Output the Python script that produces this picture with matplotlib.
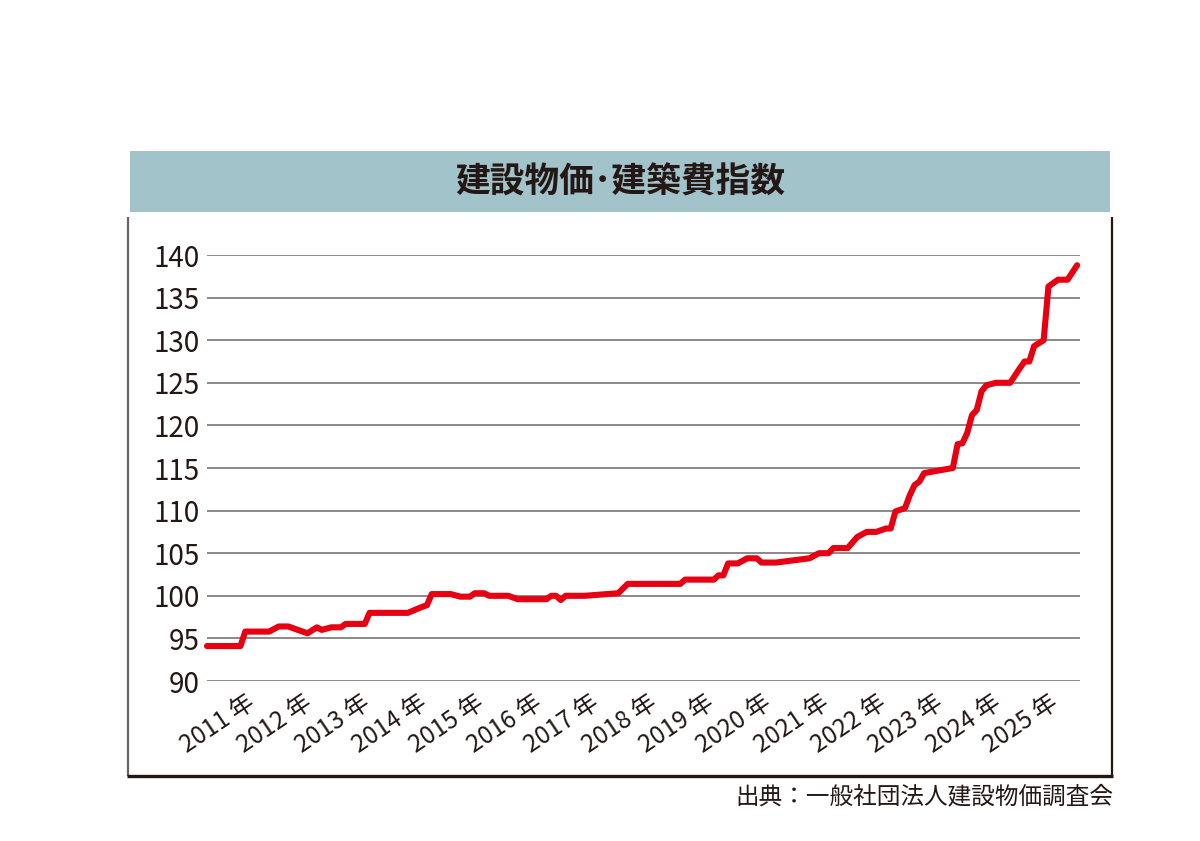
import matplotlib
matplotlib.use('Agg')
import matplotlib.pyplot as plt
from matplotlib.patches import Rectangle

plt.rcParams['font.family'] = ['Noto Sans CJK JP', 'DejaVu Sans']

title = "建設物価･建築費指数"
source = "出典：一般社団法人建設物価調査会"

dates = ["2010-05", "2010-12", "2011-01", "2011-06", "2011-08", "2011-10", "2011-12",
         "2012-02", "2012-04", "2012-05", "2012-07", "2012-09", "2012-10", "2013-02",
         "2013-03", "2013-11", "2014-02", "2014-03", "2014-04", "2014-08", "2014-10",
         "2014-12", "2015-01", "2015-03", "2015-04", "2015-08", "2015-10", "2016-04",
         "2016-05", "2016-06", "2016-07", "2016-08", "2016-12", "2017-07", "2017-09",
         "2018-08", "2018-09", "2019-03", "2019-04", "2019-05", "2019-06", "2019-08",
         "2019-10", "2019-12", "2020-01", "2020-04", "2020-11", "2021-01", "2021-03",
         "2021-04", "2021-07", "2021-09", "2021-11", "2022-01", "2022-03", "2022-04",
         "2022-05", "2022-07", "2022-08", "2022-09", "2022-10", "2022-11", "2023-05",
         "2023-06", "2023-07", "2023-08", "2023-09", "2023-10", "2023-11", "2023-12",
         "2024-02", "2024-05", "2024-07", "2024-08", "2024-09", "2024-10", "2024-12",
         "2025-01", "2025-03", "2025-05", "2025-07"]
values = [94.1, 94.1, 95.8, 95.8, 96.4, 96.4, 96.0,
          95.6, 96.3, 96.0, 96.3, 96.3, 96.7, 96.7,
          98.0, 98.0, 98.7, 98.9, 100.2, 100.2, 99.9,
          99.9, 100.3, 100.3, 100.0, 100.0, 99.6, 99.6,
          100.0, 100.0, 99.5, 100.0, 100.0, 100.3, 101.4,
          101.4, 101.9, 101.9, 102.4, 102.4, 103.8, 103.8,
          104.4, 104.4, 103.9, 103.9, 104.4, 105.0, 105.0,
          105.6, 105.6, 106.9, 107.5, 107.5, 107.9, 107.9,
          109.9, 110.3, 111.8, 113.0, 113.4, 114.4, 115.0,
          117.8, 117.9, 119.1, 121.2, 121.8, 124.0, 124.7,
          125.0, 125.0, 126.7, 127.5, 127.5, 129.3, 130.0,
          136.3, 137.1, 137.1, 138.8]

years = list(range(2011, 2026))
year_labels = [f"{y} 年" for y in years]
yticks = list(range(90, 141, 5))

INK = '#231815'


def month_index(s, start=(2010, 5)):
    y, m = map(int, s.split('-'))
    return (y - start[0]) * 12 + (m - start[1])


fig = plt.figure(figsize=(12, 8.41), dpi=100)

bg = fig.add_axes([0, 0, 1, 1], zorder=0)
bg.set_xlim(0, 1200)
bg.set_ylim(841, 0)
bg.axis('off')
bg.add_patch(Rectangle((130, 151), 980, 61, facecolor='#a3c3cb', lw=0))
bg.text(620, 182, title, ha='center', va='center', fontsize=25,
        fontweight='bold', color=INK)
bg.plot([128, 128], [217, 776], color='#6e6264', lw=1.6, solid_capstyle='butt')
bg.plot([1112, 1112], [217, 776], color=INK, lw=1.6, solid_capstyle='butt')
bg.plot([127, 1113], [776, 776], color=INK, lw=2.4, solid_capstyle='butt')
bg.text(1113, 797, source, ha='right', va='center', fontsize=17, color=INK)

ax = fig.add_axes([207 / 1200, 1 - 681 / 841, (1080 - 207) / 1200, (681 - 255) / 841],
                  zorder=1)
ax.patch.set_alpha(0)
x = [month_index(d) for d in dates]
for v in yticks:
    ax.axhline(v, color='#857f7f', lw=1.3, zorder=1)
ax.plot(x, values, color='#e60012', lw=4.4, solid_joinstyle='round',
        solid_capstyle='round', clip_on=False, zorder=3)
ax.set_xlim(0, 182.6)
ax.set_ylim(90, 140)
ax.set_yticks(yticks)
ax.tick_params(axis='y', length=0, pad=5, labelsize=20, labelcolor=INK)
ax.set_xticks([month_index(f"{y}-01") for y in years])
ax.set_xticklabels(year_labels, rotation=34, ha='right', rotation_mode='anchor')
ax.tick_params(axis='x', length=0, pad=6, labelsize=17.5, labelcolor=INK)
for s in ax.spines.values():
    s.set_visible(False)

fig.savefig('out.png', dpi=100)
